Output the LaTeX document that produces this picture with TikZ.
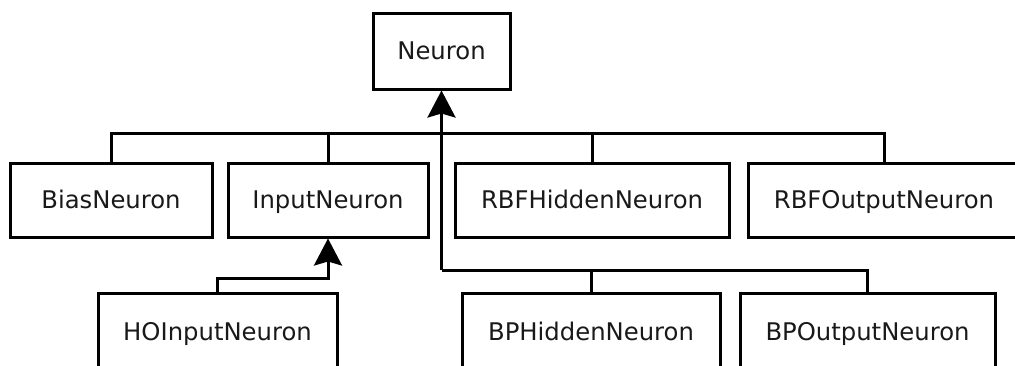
\documentclass[tikz,border=0pt]{standalone}
\usepackage{fontspec}
\setmainfont{DejaVu Sans}
\usetikzlibrary{arrows.meta}

\tikzset{
  classbox/.style={draw=black, line width=3pt, fill=white, inner sep=0pt,
    font=\fontsize{24.3}{29}\selectfont, text=black!90,
    text height=17.7pt, text depth=0pt},
  lowbox/.style={classbox, anchor=north, minimum height=80pt, text depth=4pt},
  link/.style={draw=black, line width=3pt, line join=miter},
  inherit/.style={link, -{Stealth[length=27pt, width=28pt, inset=4pt]}}
}

\begin{document}
\begin{tikzpicture}[x=1pt, y=-1pt]
  \useasboundingbox (0,0) rectangle (1015,365);
  \clip (0,0) rectangle (1015,365);
  \fill[white] (0,0) rectangle (1015,365);

  % class boxes
  \node[classbox, minimum width=137pt, minimum height=76pt] (neuron) at (441.5,51) {Neuron};

  \node[classbox, minimum width=202pt, minimum height=74pt] (bias)  at (111,200) {BiasNeuron};
  \node[classbox, minimum width=200pt, minimum height=74pt] (input) at (328,200) {InputNeuron};
  \node[classbox, minimum width=274pt, minimum height=74pt] (rbfh)  at (592,200) {RBFHiddenNeuron};
  \node[classbox, minimum width=272pt, minimum height=74pt] (rbfo)  at (884,200) {RBFOutputNeuron};

  \node[lowbox, minimum width=239pt] (hoin) at (217.5,292) {HOInputNeuron};
  \node[lowbox, minimum width=258pt] (bph)  at (591,292) {BPHiddenNeuron};
  \node[lowbox, minimum width=255pt] (bpo)  at (867.5,292) {BPOutputNeuron};

  % heights of the connector rails
  \coordinate (bus)    at (0,133);
  \coordinate (lowbus) at (0,270);
  \coordinate (hobend) at (0,278);

  % upper rail: subclasses of Neuron in the first row
  \draw[link] (bias.north) -- (bias.north |- bus) -- (rbfo.north |- bus) -- (rbfo.north);
  \draw[link] (input.north) -- (input.north |- bus);
  \draw[link] (rbfh.north) -- (rbfh.north |- bus);

  % lower rail: BP neurons
  \draw[link] (neuron.south |- lowbus) -- (bpo.north |- lowbus) -- (bpo.north);
  \draw[link] (bph.north) -- (bph.north |- lowbus);

  % trunk up to Neuron
  \draw[inherit] (neuron.south |- lowbus) -- (neuron.south);

  % HOInputNeuron derives from InputNeuron
  \draw[inherit] (hoin.north) |- (input.south |- hobend) -- (input.south);
\end{tikzpicture}
\end{document}
